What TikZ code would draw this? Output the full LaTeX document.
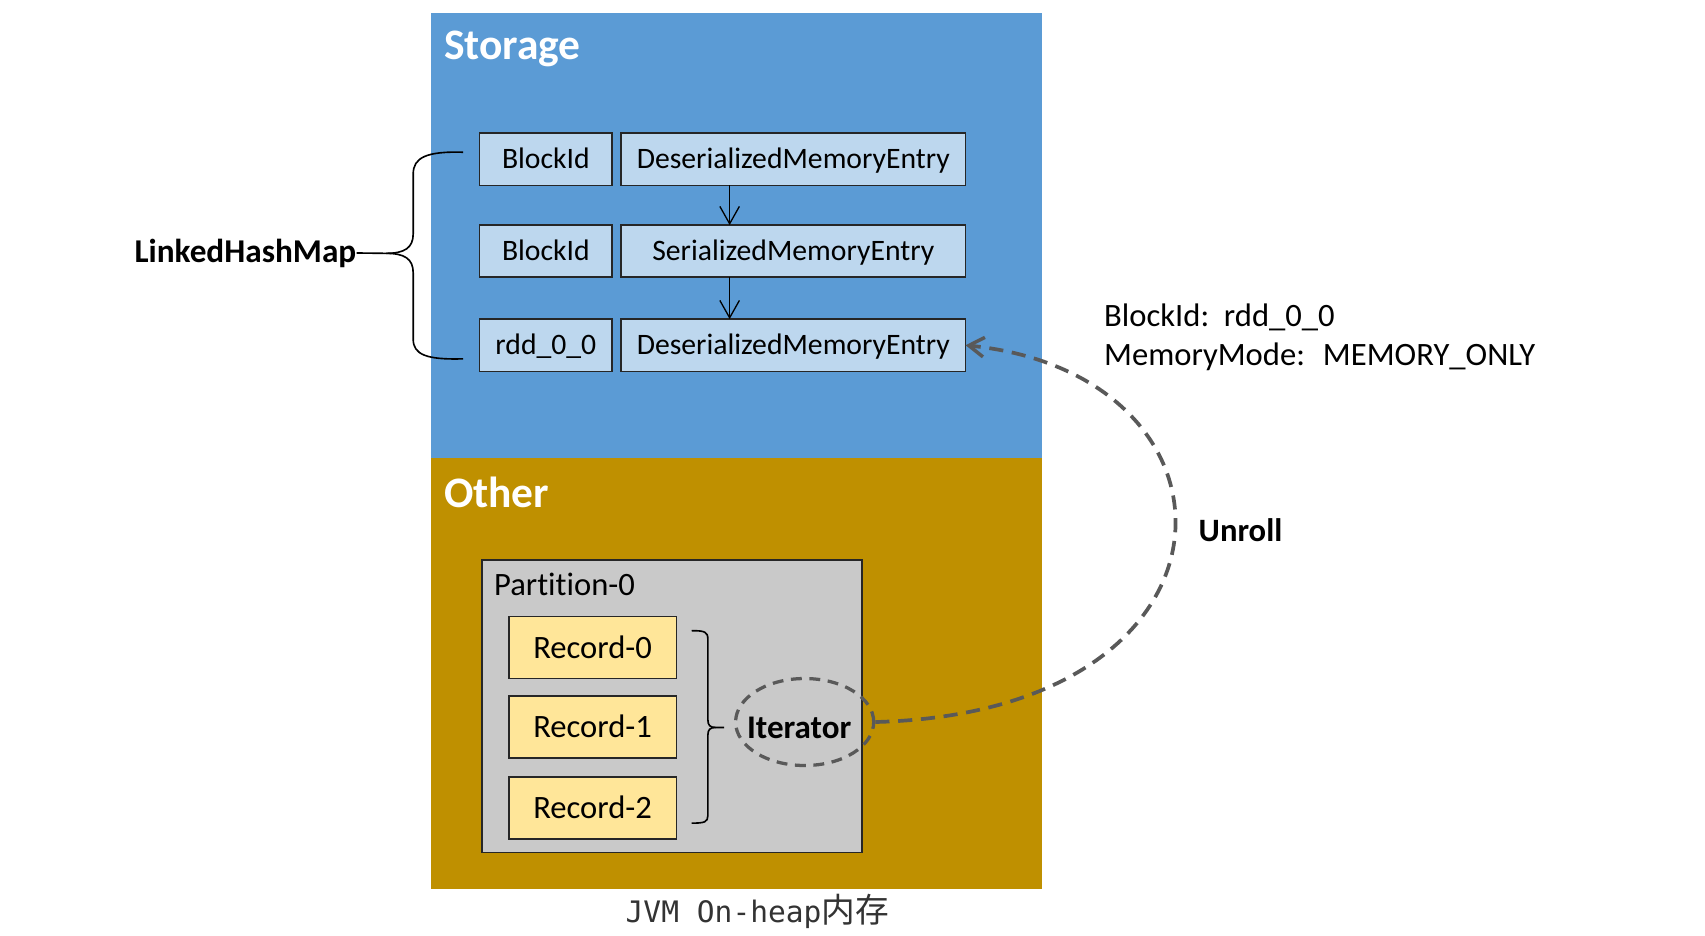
\documentclass[tikz,border=0pt]{standalone}
\usepackage{fontspec}
\setmainfont{Carlito}[Ligatures=NoCommon]
\newfontfamily\monofont{DejaVu Sans Mono}
\newfontfamily\cjkfont{Noto Sans CJK SC}
\usetikzlibrary{arrows.meta,shapes.geometric}
\definecolor{storageblue}{HTML}{5B9BD5}
\definecolor{othergold}{HTML}{BF9000}
\definecolor{entryblue}{HTML}{BDD7EE}
\definecolor{recordyellow}{HTML}{FFE699}
\definecolor{partgray}{HTML}{C9C9C9}
\definecolor{dashgray}{HTML}{595959}
\definecolor{boxline}{HTML}{262626}
\begin{document}
\begin{tikzpicture}[x=0.5pt,y=-0.5pt,
  region/.style={draw=none, inner sep=0pt, outer sep=0pt},
  areatitle/.style={anchor=base west, inner sep=0pt, text=white, font=\fontsize{20}{24}\selectfont\bfseries},
  entry/.style={draw=boxline, line width=0.75pt, fill=entryblue, minimum height=24pt, inner sep=0pt, outer sep=0pt, text height=11.8pt, text depth=3pt, font=\fontsize{13.65}{16}\selectfont},
  keybox/.style={entry, minimum width=61pt},
  valbox/.style={entry, minimum width=158.5pt},
  record/.style={draw=boxline, line width=0.75pt, fill=recordyellow, minimum width=77pt, minimum height=28.5pt, inner sep=0pt, outer sep=0pt, text height=12.7pt, text depth=3pt, font=\fontsize{15}{18}\selectfont},
  plain/.style={anchor=base west, inner sep=0pt, font=\fontsize{15}{18}\selectfont},
  boldlabel/.style={plain, font=\fontsize{15}{18}\selectfont\bfseries},
  link/.style={draw=black, line width=0.6pt, -{Straight Barb[length=8pt,width=9pt]}},
  bracestyle/.style={draw=black, line width=0.75pt},
  unroll/.style={draw=dashgray, line width=1.7pt, dash pattern=on 6.5pt off 4pt, -{Straight Barb[length=7pt,width=9pt,line width=1.6pt]}},
  iterring/.style={ellipse, draw=dashgray, line width=1.5pt, dash pattern=on 5pt off 3.5pt, minimum width=63.5pt, minimum height=40pt, inner sep=0pt}
]
\useasboundingbox (0,0) rectangle (1568,860);

% regions
\node[region, fill=storageblue, minimum width=281pt, minimum height=204.5pt] (storage) at (677,216.5) {};
\node[region, fill=othergold, minimum width=281pt, minimum height=198.5pt] (other) at (677,619.5) {};
\node[areatitle] (storagetitle) at (408,55) {Storage};
\node[areatitle] (othertitle) at (408,467) {Other};

% map entries
\node[keybox] (k1) at (502,146.5) {BlockId};
\node[valbox] (d1) at (729.5,146.5) {DeserializedMemoryEntry};
\node[keybox] (k2) at (502,231) {BlockId};
\node[valbox] (s2) at (729.5,231) {SerializedMemoryEntry};
\node[keybox] (k3) at (502,317.5) {rdd\_0\_0};
\node[valbox] (d3) at (729.5,317.5) {DeserializedMemoryEntry};

\draw[link] ([xshift=-29.25pt]d1.south) -- ([xshift=-29.25pt]s2.north);
\draw[link] ([xshift=-29.25pt]s2.south) -- ([xshift=-29.25pt]d3.north);

% LinkedHashMap brace
\node[anchor=base east, inner sep=0pt, font=\fontsize{15.3}{18}\selectfont\bfseries] (lhm) at (328,241) {LinkedHashMap};
\draw[bracestyle] (426,140) .. controls (392,139) and (380,145) .. (380,160) -- (380,215)
  .. controls (380,228) and (372,233) .. (355,233) -- (lhm.east);
\draw[bracestyle] (355,233) .. controls (372,233) and (380,238) .. (380,251) -- (380,312)
  .. controls (380,326) and (392,331) .. (426,330);

% partition
\node[draw=boxline, line width=0.75pt, fill=partgray, minimum width=175pt, minimum height=134.5pt, inner sep=0pt, outer sep=0pt] (part) at (618,649.5) {};
\node[plain] (parttitle) at (454,548) {Partition-0};
\node[record] (rec0) at (545,595.5) {Record-0};
\node[record] (rec1) at (545,668.5) {Record-1};
\node[record] (rec2) at (545,743) {Record-2};

% record bracket
\draw[bracestyle] (636,580) .. controls (648,580) and (651,581) .. (651,588) -- (651,662)
  .. controls (651,667) and (653,669) .. (658,669) -- (666,669);
\draw[bracestyle] (658,669) .. controls (653,669) and (651,671) .. (651,676) -- (651,750)
  .. controls (651,756) and (648,757) .. (636,757);

% iterator
\node[iterring] (iter) at (740,664) {};
\node[anchor=base, inner sep=0pt, font=\fontsize{15.2}{18}\selectfont\bfseries] (itertext) at (735,679) {Iterator};

% unroll connector
\draw[unroll] (iter.east) .. controls (1157,655) and (1157,345) .. (d3.east);

% right-hand labels
\node[plain] (blockinfo) at (1015,300) {BlockId:\hspace{0.45em}rdd\_0\_0};
\node[plain] (modeinfo) at (1015,336) {MemoryMode:\hspace{0.55em}MEMORY\_ONLY};
\node[boldlabel] (unrolllabel) at (1102,498) {Unroll};

% caption
\node[anchor=base west, inner sep=0pt, text=black!80] (caption) at (575,848)
  {\monofont\fontsize{13.6}{16}\selectfont JVM On-heap\cjkfont\fontsize{15.5}{18}\selectfont 内存};
\end{tikzpicture}
\end{document}
